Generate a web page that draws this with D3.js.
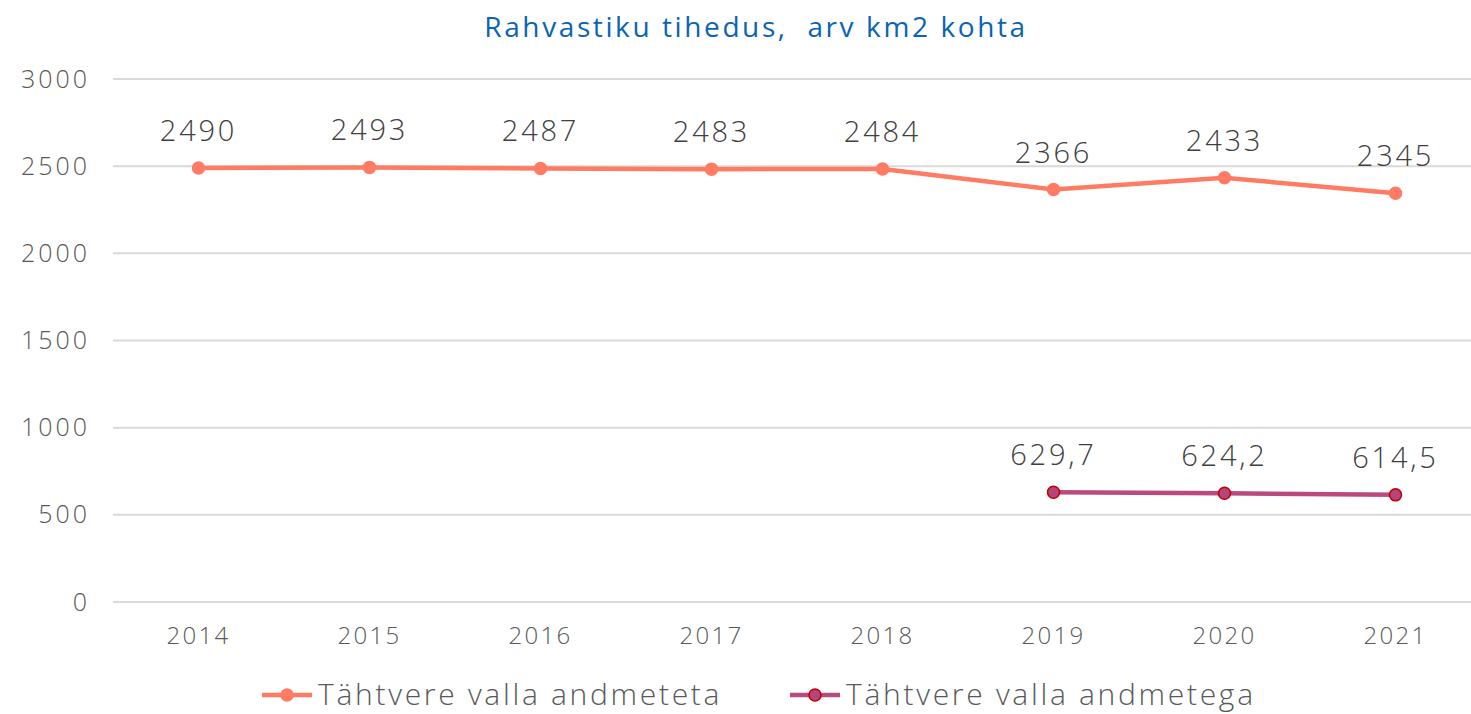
<!DOCTYPE html>
<html>
<head>
<meta charset="utf-8">
<script src="https://cdn.jsdelivr.net/npm/d3@7"></script>
<style>
  body { margin: 0; background: #fff; }
  svg { display: block; font-family: "Open Sans", Inter, sans-serif; font-weight: 300; }
</style>
</head>
<body>
<svg id="chart" width="1471" height="714"></svg>
<script>
// chart data
const years = ['2014', '2015', '2016', '2017', '2018', '2019', '2020', '2021'];
const withoutTahtvere = [2490, 2493, 2487, 2483, 2484, 2366, 2433, 2345];
const withTahtvere = [null, null, null, null, null, 629.7, 624.2, 614.5];
const yTicks = [0, 500, 1000, 1500, 2000, 2500, 3000];
const seriesNames = ['Tähtvere valla andmeteta', 'Tähtvere valla andmetega'];

const svg = d3.select('#chart'),
    margin = { top: 79, right: -10, bottom: 112, left: 113 },
    width = +svg.attr('width'),
    height = +svg.attr('height');

const fmt = v => Number.isInteger(v) ? String(v) : String(v).replace('.', ',');

const x = d3.scaleBand()
    .domain(years)
    .range([margin.left, width - margin.right]);

const y = d3.scaleLinear()
    .domain([0, 3000])
    .range([height - margin.bottom, margin.top]);

// title
svg.append('text')
    .attr('x', 756)
    .attr('y', 37)
    .attr('text-anchor', 'middle')
    .attr('fill', '#0A64B4')
    .style('font-size', '28px')
    .style('font-weight', 400)
    .style('letter-spacing', '2.6px')
    .style('white-space', 'pre')
    .text('Rahvastiku tihedus,  arv km2 kohta');

// gridlines
svg.append('g')
    .selectAll('line')
    .data(yTicks)
    .enter().append('line')
    .attr('x1', margin.left)
    .attr('x2', width)
    .attr('y1', d => y(d))
    .attr('y2', d => y(d))
    .attr('stroke', '#d9d9d9')
    .attr('stroke-width', 2);

// y axis
const yAxis = svg.append('g')
    .attr('transform', `translate(${margin.left},0)`)
    .call(d3.axisLeft(y).tickValues(yTicks).tickFormat(d3.format('d')).tickSize(0).tickPadding(23));
yAxis.select('.domain').remove();
yAxis.selectAll('text')
    .attr('fill', '#595959')
    .style('font-family', '"Open Sans", sans-serif')
    .style('font-size', '25px')
    .style('letter-spacing', '3px');

// x axis
const xAxis = svg.append('g')
    .attr('transform', `translate(0,${height - margin.bottom})`)
    .call(d3.axisBottom(x).tickSize(0).tickPadding(25));
xAxis.select('.domain').remove();
xAxis.selectAll('text')
    .attr('fill', '#595959')
    .style('font-family', '"Open Sans", sans-serif')
    .style('font-size', '24px')
    .style('letter-spacing', '2.3px');

const cx = d => x(d) + x.bandwidth() / 2;

const series = [
    { values: withoutTahtvere, line: '#FF7B63', fill: '#FF7B63', stroke: '#FF7B63' },
    { values: withTahtvere, line: '#BA4A7C', fill: '#B5457A', stroke: '#C00000' }
];

series.forEach(s => {
    const pts = years.map((yr, i) => ({ yr, v: s.values[i] })).filter(d => d.v != null);

    const line = d3.line()
        .x(d => cx(d.yr))
        .y(d => y(d.v));

    svg.append('path')
        .datum(pts)
        .attr('d', line)
        .attr('fill', 'none')
        .attr('stroke', s.line)
        .attr('stroke-width', 4.5)
        .attr('stroke-linecap', 'round');

    svg.append('g')
        .selectAll('circle')
        .data(pts)
        .enter().append('circle')
        .attr('cx', d => cx(d.yr))
        .attr('cy', d => y(d.v))
        .attr('r', 6)
        .attr('fill', s.fill)
        .attr('stroke', s.stroke)
        .attr('stroke-width', 1.5);

    svg.append('g')
        .selectAll('text')
        .data(pts)
        .enter().append('text')
        .attr('x', d => cx(d.yr))
        .attr('y', d => y(d.v) - 27)
        .attr('text-anchor', 'middle')
        .attr('fill', '#404040')
        .style('font-size', '29px')
        .style('letter-spacing', '2.8px')
        .text(d => fmt(d.v));
});

// legend
const legendX = [262, 790];
const legend = svg.append('g')
    .selectAll('g')
    .data(series)
    .enter().append('g')
    .attr('transform', (d, i) => `translate(${legendX[i]},695)`);

legend.append('line')
    .attr('x1', 0).attr('x2', 50)
    .attr('stroke', d => d.line)
    .attr('stroke-width', 4.5);

legend.append('circle')
    .attr('cx', 25)
    .attr('r', 6)
    .attr('fill', d => d.fill)
    .attr('stroke', d => d.stroke)
    .attr('stroke-width', 1.5);

legend.append('text')
    .attr('x', 56)
    .attr('y', 10)
    .attr('fill', '#595959')
    .style('font-size', '30px')
    .style('letter-spacing', '2.7px')
    .text((d, i) => seriesNames[i]);
</script>
</body>
</html>
